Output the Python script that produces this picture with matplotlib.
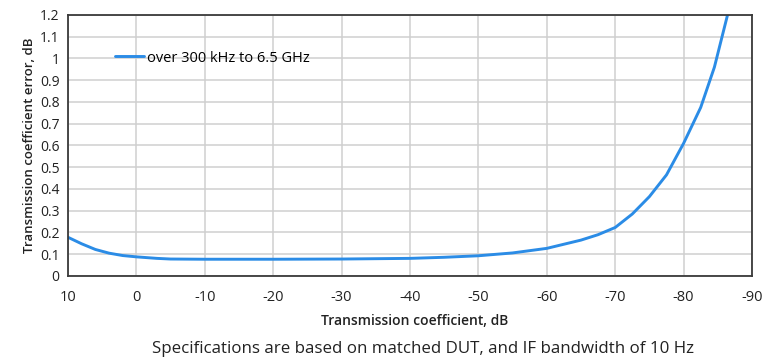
import matplotlib
matplotlib.use("Agg")
import matplotlib.pyplot as plt

# transmission coefficient, dB
coef_db = [10, 8, 6, 4, 2, 0, -3, -5, -10, -20, -30, -40, -45, -50, -55,
           -60, -65, -67.5, -70, -72.5, -75, -77.5, -80, -82.5, -84.5, -86.5]
# transmission coefficient error, dB
error_db = [0.178, 0.148, 0.122, 0.105, 0.094, 0.088, 0.081, 0.078, 0.077, 0.077,
            0.078, 0.081, 0.086, 0.093, 0.106, 0.127, 0.165, 0.19, 0.223, 0.285,
            0.365, 0.465, 0.61, 0.775, 0.96, 1.21]
series_name = "over 300 kHz to 6.5 GHz"

x_ticks = list(range(10, -91, -10))
y_ticks = [round(0.1 * i, 1) for i in range(13)]
y_tick_labels = ["0", "0.1", "0.2", "0.3", "0.4", "0.5", "0.6", "0.7", "0.8",
                 "0.9", "1", "1.1", "1.2"]

plt.rcParams['font.family'] = ['Open Sans', 'DejaVu Sans']

fig = plt.figure(figsize=(7.63, 3.62), dpi=100)
ax = fig.add_axes([0.0891, 0.2376, 0.8965, 0.7210])

ax.plot(coef_db, error_db, color="#2b8ce6", lw=2.1, label=series_name,
        solid_capstyle="round", clip_on=True)

ax.set_xlim(10, -90)
ax.set_ylim(0, 1.2)
ax.set_xticks(x_ticks)
ax.set_xticklabels([str(v) for v in x_ticks])
ax.set_yticks(y_ticks)
ax.set_yticklabels(y_tick_labels)
ax.tick_params(axis="x", length=0, labelsize=10.5, colors="#222222", pad=10)
ax.tick_params(axis="y", length=0, labelsize=10, colors="#222222", pad=6)
ax.grid(True, color="#cfcfcf", lw=1.1)
ax.set_axisbelow(True)
for sp in ax.spines.values():
    sp.set_color("#3a3a3a")
    sp.set_linewidth(1.3)

ax.set_xlabel("Transmission coefficient, dB", fontsize=10, fontweight="semibold",
              color="#222222", labelpad=8)
ax.xaxis.set_label_coords(0.5 + 5 / 684, -0.145)
ax.set_ylabel("Transmission coefficient error, dB", fontsize=9.5, fontweight="semibold",
              color="#222222", labelpad=3)

ax.legend(loc="center left", bbox_to_anchor=(0.06, 0.835), frameon=False,
          fontsize=10.5, handlelength=2.0, handletextpad=0.2, borderaxespad=0)

fig.text(0.554, 0.035, "Specifications are based on matched DUT, and IF bandwidth of 10 Hz",
         ha="center", va="center", fontsize=12.2, color="#222222")

fig.savefig("out.png", dpi=100)
